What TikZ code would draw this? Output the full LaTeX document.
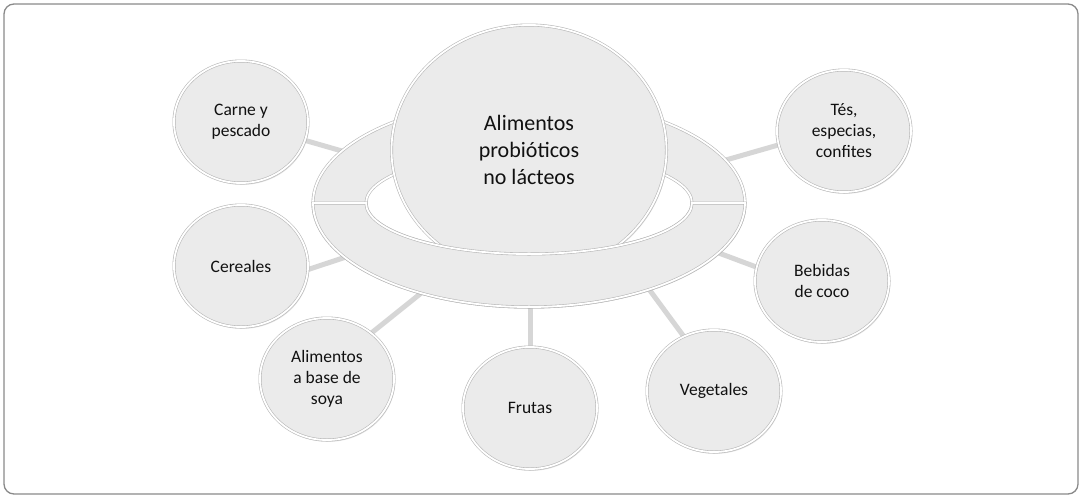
\documentclass[tikz,border=0pt]{standalone}
\usepackage{fontspec}
\setmainfont{Carlito}
\usetikzlibrary{shapes.geometric,shadows}
\pgfdeclarelayer{back}
\pgfsetlayers{back,main}
\definecolor{fillg}{HTML}{EBEBEB}
\definecolor{lineg}{HTML}{B8B8B8}
\definecolor{conng}{HTML}{D6D6D6}
\definecolor{frameg}{HTML}{8A8A8A}
\definecolor{txt}{HTML}{111111}
\begin{document}
\begin{tikzpicture}[x=1pt,y=1pt,
  bubble/.style={ellipse, inner sep=0pt, fill=fillg, draw=lineg, line width=0.6pt,
    double=white, double distance=1.8pt, align=center, text=txt,
    drop shadow={shadow xshift=1.2pt, shadow yshift=-1.8pt, opacity=0.4, fill=gray!60}},
  sat/.style={bubble, minimum width=134pt, minimum height=122pt,
    font=\fontsize{17.5}{21}\selectfont},
  hubstyle/.style={bubble, minimum width=275pt, minimum height=250pt,
    font=\fontsize{22}{27}\selectfont},
  ringpart/.style={fill=fillg, draw=lineg, line width=0.6pt, double=white, double distance=1.8pt},
  conn/.style={draw=conng, line width=5pt},
  frame/.style={draw=frameg, line width=1.3pt, fill=white, rounded corners=10pt}]
\useasboundingbox (0,0) rectangle (1083,-501);
\begin{pgfonlayer}{back}
  \path[frame] (4,-4) rectangle (1078,-494);
\end{pgfonlayer}
% ring (back part)
\path[ringpart, drop shadow={shadow xshift=1pt, shadow yshift=-1.5pt, opacity=0.35, fill=gray!60}]
  (529,-203) ellipse[x radius=216, y radius=104];
\path[ringpart, fill=white] (529,-203) ellipse[x radius=163, y radius=51];
% central sphere
\node[hubstyle] (hub) at (529,-150) {Alimentos\\probióticos\\no lácteos};
% ring (front part)
\path[ringpart] (313,-203) arc[start angle=180, end angle=360, x radius=216, y radius=104]
  -- (692,-203) arc[start angle=0, end angle=-180, x radius=163, y radius=51] -- cycle;
% satellites
\node[sat] (carne) at (241,-122) {Carne y\\pescado};
\node[sat] (tes) at (844,-131) {Tés,\\especias,\\confites};
\node[sat] (cer) at (241,-266) {Cereales};
\node[sat] (beb) at (822,-281) {Bebidas\\de coco};
\node[sat] (soya) at (327,-379) {Alimentos\\a base de\\soya};
\node[sat] (fru) at (530,-408) {Frutas};
\node[sat] (veg) at (714,-391) {Vegetales};
% connector ends inside the ring
\coordinate (c1) at (380,-162);
\coordinate (t1) at (705,-166);
\coordinate (ce1) at (370,-249);
\coordinate (b1) at (700,-246);
\coordinate (s1) at (430,-286);
\coordinate (f1) at (530,-290);
\coordinate (v1) at (640,-277);
\begin{pgfonlayer}{back}
  \draw[conn] (c1) -- (carne.-16);
  \draw[conn] (t1) -- (tes.192);
  \draw[conn] (ce1) -- (cer.-3);
  \draw[conn] (b1) -- (beb.168);
  \draw[conn] (s1) -- (soya.46);
  \draw[conn] (f1) -- (fru.90);
  \draw[conn] (v1) -- (veg.119);
\end{pgfonlayer}
\end{tikzpicture}
\end{document}
